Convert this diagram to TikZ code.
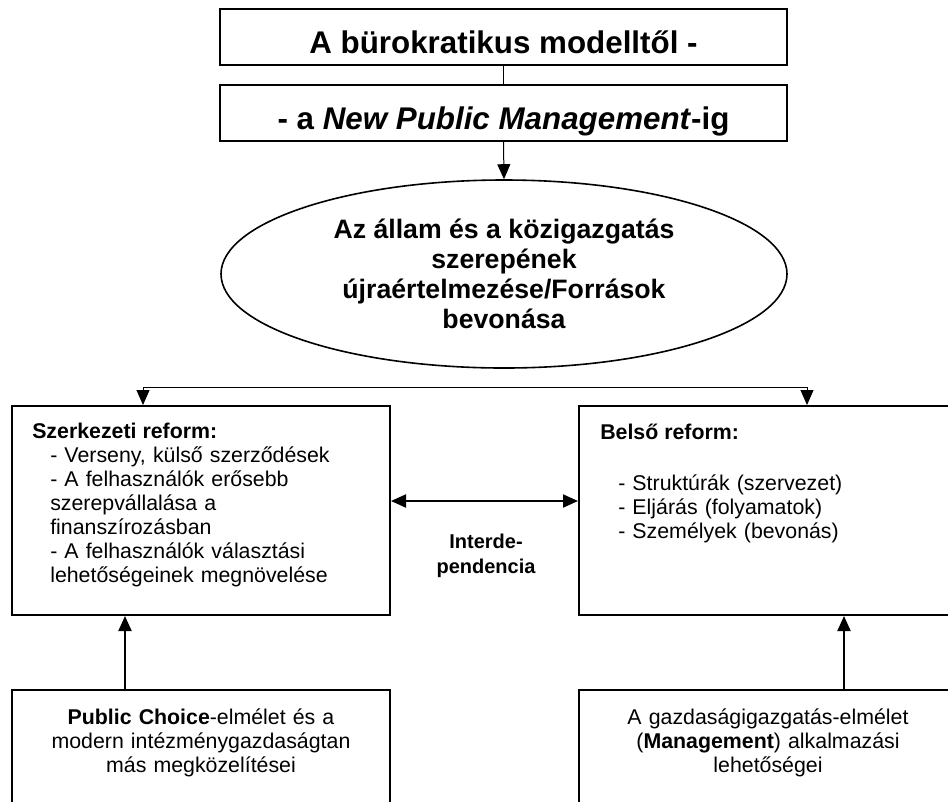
\documentclass[tikz,border=0pt]{standalone}
\usepackage{fontspec}
\setmainfont{Liberation Sans}
\usetikzlibrary{arrows.meta,shapes.geometric}

\tikzset{
  frame/.style={draw, rectangle, line width=1.5pt, inner sep=0pt},
  titlebox/.style={frame, minimum width=425.25pt, minimum height=42pt,
    font=\fontsize{23.5}{26}\selectfont\bfseries, text height=24pt, text depth=0pt},
  reformbox/.style={frame, minimum width=283.5pt, minimum height=156.75pt},
  sourcebox/.style={frame, minimum width=283.5pt, minimum height=120pt},
  bodytext/.style={inner sep=0pt, font=\fontsize{16}{18}\selectfont},
  tip/.style={-{Triangle[length=11.25pt,width=9.75pt]}},
  thinline/.style={line width=0.75pt},
  thickline/.style={line width=1.5pt},
}

\begin{document}
\begin{tikzpicture}[x=0.75pt,y=-0.75pt]
  \useasboundingbox (0,0) rectangle (948,801);
  \clip (0,0) rectangle (948,801);

  % title boxes
  \node[titlebox] (b1) at (503.5,37) {A bürokratikus modelltől -};
  \node[titlebox] (b2) at (503.5,113) {- a \textit{New Public Management}-ig};

  % central ellipse
  \node[draw, ellipse, line width=1.2pt, inner sep=0pt,
        minimum width=424.5pt, minimum height=141pt,
        align=center, font=\fontsize{20}{22.5}\selectfont\bfseries]
    (ell) at (504,274)
    {Az állam és a közigazgatás\\szerepének\\újraértelmezése/Források\\bevonása};

  % reform boxes
  \node[reformbox] (lbox) at (201,510.5) {};
  \node[reformbox] (rbox) at (768,510.5) {};

  \node[bodytext, anchor=base west] (lhead) at (32,438) {\bfseries Szerkezeti reform:};
  \node[bodytext, anchor=base west, text width=255pt, align=left] (litems) at (50,462)
    {- Verseny, külső szerződések\\
     - A felhasználók erősebb\\
     szerepvállalása a\\
     finanszírozásban\\
     - A felhasználók választási\\
     lehetőségeinek megnövelése};

  \node[bodytext, anchor=base west] (rhead) at (600,439) {\bfseries Belső reform:};
  \node[bodytext, anchor=base west, text width=240pt, align=left] (ritems) at (618,490)
    {- Struktúrák (szervezet)\\
     - Eljárás (folyamatok)\\
     - Személyek (bevonás)};

  \node[inner sep=0pt, anchor=base, text width=112pt, align=center,
        font=\fontsize{15}{18.75}\selectfont\bfseries] (interdep) at (486,548)
    {Interde-\\pendencia};

  % theory boxes
  \node[sourcebox] (lbot) at (201,770) {};
  \node[sourcebox] (rbot) at (768,770) {};

  \node[bodytext, anchor=base, text width=270pt, align=center] (lsrc) at (201,724)
    {\textbf{Public Choice}-elmélet és a\\modern intézménygazdaságtan\\más megközelítései};
  \node[bodytext, anchor=base, text width=270pt, align=center] (rsrc) at (768,724)
    {A gazdaságigazgatás-elmélet\\(\textbf{Management}) alkalmazási\\lehetőségei};

  % connectors
  \draw[thinline] (b1.south) -- (b2.north);
  \draw[thinline, tip] (b2.south) -- (ell.north);

  \coordinate (splitL) at (143,387);
  \coordinate (splitR) at (807,387);
  \draw[thinline] (splitL) -- (splitR);
  \draw[thinline, tip] (splitL) -- (splitL |- lbox.north);
  \draw[thinline, tip] (splitR) -- (splitR |- rbox.north);

  \coordinate (mid) at (484.5,501);
  \draw[thickline, {Triangle[length=11.25pt,width=9.75pt]}-{Triangle[length=11.25pt,width=9.75pt]}]
    (mid -| lbox.east) -- (mid -| rbox.west);

  \coordinate (upL) at (125,650);
  \coordinate (upR) at (844,650);
  \draw[thickline, tip] (upL |- lbot.north) -- (upL |- lbox.south);
  \draw[thickline, tip] (upR |- rbot.north) -- (upR |- rbox.south);
\end{tikzpicture}
\end{document}
